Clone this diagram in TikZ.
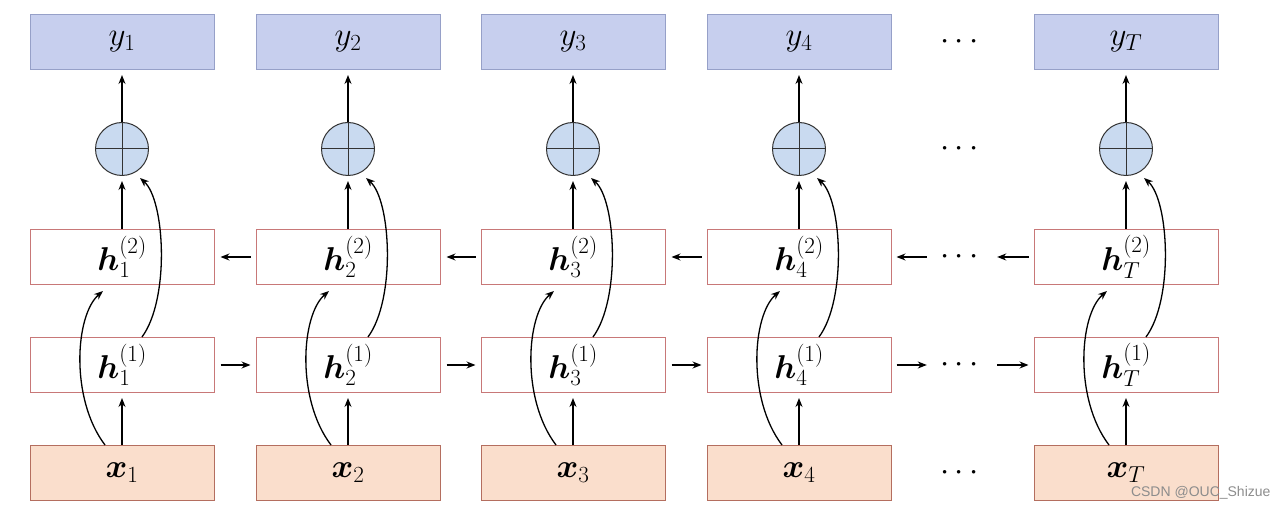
\RequirePackage{fix-cm}
\documentclass[tikz,border=0pt]{standalone}
\usepackage{amsmath,bm}
\usepackage{fontspec}
\newfontfamily\wmfont{Liberation Sans}
\usetikzlibrary{calc,arrows.meta}
\definecolor{ybox}{RGB}{199,207,238}
\definecolor{yedge}{RGB}{150,160,200}
\definecolor{cfill}{RGB}{201,218,240}
\definecolor{hedge}{RGB}{200,120,120}
\definecolor{xfill}{RGB}{250,222,204}
\definecolor{xedge}{RGB}{180,110,95}
\tikzset{
  box/.style={rectangle, minimum width=184pt, minimum height=55pt, inner sep=0pt, line width=1pt, font=\fontsize{33}{36}\selectfont},
  ybx/.style={box, fill=ybox, draw=yedge},
  hbx/.style={box, fill=white, draw=hedge},
  xbx/.style={box, fill=xfill, draw=xedge},
  sumc/.style={circle, minimum size=53pt, inner sep=0pt, fill=cfill, draw=black!80, line width=1pt},
  crossln/.style={draw=black!80, line width=1pt},
  arr/.style={line width=1.3pt, -{Stealth[length=9pt,width=7pt]}},
  dotn/.style={inner sep=0pt, minimum width=70pt, font=\fontsize{33}{36}\selectfont},
}
\begin{document}
\begin{tikzpicture}[x=1pt,y={(0,-1pt)}]
\useasboundingbox (0,0) rectangle (1288,510);
\foreach \i/\cx/\s in {1/122/1, 2/348/2, 3/573/3, 4/799/4, 5/1126/T} {
  \node[ybx] (y\i) at (\cx,42) {$y_{\s}$};
  \node[sumc] (c\i) at (\cx,149) {};
  \draw[crossln] (c\i.north) -- (c\i.south) (c\i.west) -- (c\i.east);
  \node[hbx] (hb\i) at (\cx,257) {$\bm{h}_{\s}^{(2)}$};
  \node[hbx] (ha\i) at (\cx,365) {$\bm{h}_{\s}^{(1)}$};
  \node[xbx] (x\i) at (\cx,473) {$\bm{x}_{\s}$};
  \draw[arr, shorten >=5pt] (x\i.north) -- (ha\i.south);
  \draw[arr, shorten >=5pt] (hb\i.north) -- (c\i.south);
  \draw[arr, shorten >=5pt] (c\i.north) -- (y\i.south);
  \draw[arr] ($(x\i.north)+(-17,0)$) .. controls ($(x\i.north)+(-52,-46)$) and ($(hb\i.south)+(-47,30)$) .. ($(hb\i.south)+(-19,6)$);
  \draw[arr] ($(ha\i.north)+(20,0)$) .. controls ($(ha\i.north)+(48,-38)$) and ($(c\i.south)+(43,24)$) .. ($(c\i.south)+(18,2)$);
}
\foreach \i/\j in {1/2, 2/3, 3/4} {
  \draw[arr, shorten <=6pt, shorten >=5pt] (ha\i.east) -- (ha\j.west);
  \draw[arr, shorten <=5pt, shorten >=6pt] (hb\j.west) -- (hb\i.east);
}
\node[dotn] (dy) at (962,42) {$\cdots$};
\node[dotn] (dc) at (962,149) {$\cdots$};
\node[dotn] (db) at (962,257) {$\cdots$};
\node[dotn] (da) at (962,365) {$\cdots$};
\node[dotn] (dx) at (962,473) {$\cdots$};
\draw[arr, shorten <=5pt] (ha4.east) -- (da.west);
\draw[arr, shorten >=5pt] (da.east) -- (ha5.west);
\draw[arr, shorten <=5pt] (hb5.west) -- (db.east);
\draw[arr, shorten >=5pt] (db.west) -- (hb4.east);
\node[font=\wmfont\fontsize{14}{16}\selectfont, text=black!45, anchor=east] (wm) at (1274,493) {CSDN @OUC\_Shizue};
\end{tikzpicture}
\end{document}
